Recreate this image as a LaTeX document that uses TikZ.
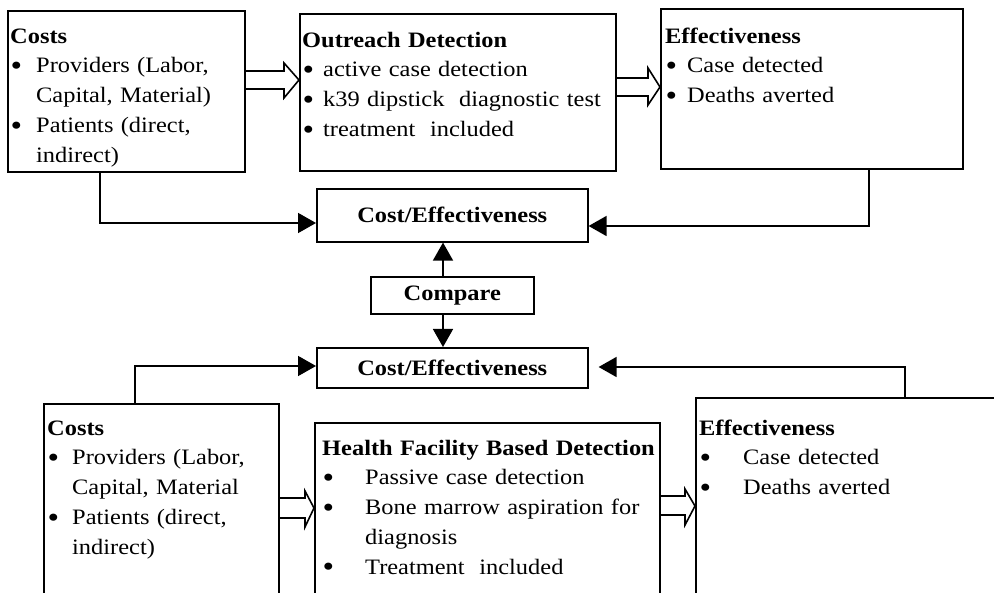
\documentclass[tikz,border=0pt]{standalone}
\usepackage{fontspec}
\setmainfont{Liberation Serif}[FakeStretch=1.11]
\usetikzlibrary{arrows.meta,calc}
\newcommand\bul[1]{\makebox[#1][l]{\hspace*{0.5pt}\raisebox{-2.5pt}{\scalebox{1.35}{•}}}}
% #1 from node, #2 to node, #3 shaft top y, #4 shaft bottom y, #5 head top y, #6 head bottom y, #7 tip y, #8 head length
\newcommand\hollowarr[8]{%
  \draw[hol] (#1.east |- 0,#3) -- ($(#2.west |- 0,#3)+(-#8,0)$) -- ($(#2.west |- 0,#5)+(-#8,0)$)
    -- (#2.west |- 0,#7) -- ($(#2.west |- 0,#6)+(-#8,0)$) -- ($(#2.west |- 0,#4)+(-#8,0)$) -- (#1.east |- 0,#4);}
\begin{document}
\begin{tikzpicture}[x=1pt,y=-1pt,
  box/.style={draw, line width=1.6pt, rectangle, anchor=north west, inner sep=0pt},
  txt/.style={anchor=north west, inner sep=0pt, align=left, text width=#1, font=\fontsize{22}{29.8}\selectfont},
  lbl/.style={font=\fontsize{22}{26}\selectfont\bfseries},
  conn/.style={line width=1.6pt, -{Triangle[length=18pt,width=20pt]}},
  hol/.style={line width=1.6pt, line join=miter}]
\useasboundingbox (0,0) rectangle (994,593);
\clip (0,0) rectangle (994,593);

% top row boxes
\node[box, minimum width=237pt, minimum height=161pt] (tl) at (7,10) {};
\node[box, minimum width=316pt, minimum height=157pt] (tm) at (299,13) {};
\node[box, minimum width=302pt, minimum height=160pt] (tr) at (660,8) {};

% middle boxes
\node[box, lbl, minimum width=271pt, minimum height=53pt] (ce1) at (316,188) {Cost/Effectiveness};
\node[box, lbl, minimum width=163pt, minimum height=37pt] (cmp) at (370,276) {Compare};
\node[box, lbl, minimum width=271pt, minimum height=40pt] (ce2) at (316,347) {Cost/Effectiveness};

% bottom row boxes (cut by the lower and right border)
\node[box, minimum width=235pt, minimum height=230pt] (bl) at (43,403) {};
\node[box, minimum width=345pt, minimum height=230pt] (bm) at (314,422) {};
\node[box, minimum width=330pt, minimum height=230pt] (br) at (695,397) {};

% texts
\node[txt=230pt] (tlT) at (10,27) {\rule{0pt}{16pt}\textbf{Costs}\\
  \bul{26pt}Providers (Labor,\\
  \hspace*{26pt}Capital, Material)\\
  \bul{26pt}Patients (direct,\\
  \hspace*{26pt}indirect)};
\node[txt=310pt] (tmT) at (302,31) {\rule{0pt}{16pt}\textbf{Outreach Detection}\\
  \bul{21pt}active case detection\\
  \bul{21pt}k39 dipstick\ \ diagnostic test\\
  \bul{21pt}treatment\ \ included};
\node[txt=290pt] (trT) at (665,27) {\rule{0pt}{16pt}\textbf{Effectiveness}\\
  \bul{22pt}Case detected\\
  \bul{22pt}Deaths averted};
\node[txt=228pt] (blT) at (47,419) {\rule{0pt}{16pt}\textbf{Costs}\\
  \bul{25pt}Providers (Labor,\\
  \hspace*{25pt}Capital, Material\\
  \bul{25pt}Patients (direct,\\
  \hspace*{25pt}indirect)};
\node[txt=340pt] (bmT) at (322,439) {\rule{0pt}{16pt}\textbf{Health Facility Based Detection}\\
  \bul{43pt}Passive case detection\\
  \bul{43pt}Bone marrow aspiration for\\
  \hspace*{43pt}diagnosis\\
  \bul{43pt}Treatment\ \ included};
\node[txt=280pt] (brT) at (699,419) {\rule{0pt}{16pt}\textbf{Effectiveness}\\
  \bul{44pt}Case detected\\
  \bul{44pt}Deaths averted};

% hollow double arrows
\hollowarr{tl}{tm}{71}{89}{63}{98}{80}{15}
\hollowarr{tm}{tr}{78}{96}{68}{105}{87}{12}
\hollowarr{bl}{bm}{498}{518}{491}{527}{508}{9}
\hollowarr{bm}{br}{496}{515}{489}{525}{506}{10}

% elbow connectors to the cost/effectiveness boxes
\draw[conn] (tl.south -| 100,0) |- (ce1.west |- 0,223);
\draw[conn] (tr.south -| 869,0) |- (ce1.east |- 0,226);
\draw[conn] (bl.north -| 135,0) |- (ce2.west |- 0,366);
\draw[conn, shorten >=10pt] (br.north -| 905,0) |- (ce2.east |- 0,367);

% compare arrows
\draw[conn] (cmp.north -| 443,0) -- (ce1.south -| 443,0);
\draw[conn] (cmp.south -| 443,0) -- (ce2.north -| 443,0);
\end{tikzpicture}
\end{document}
